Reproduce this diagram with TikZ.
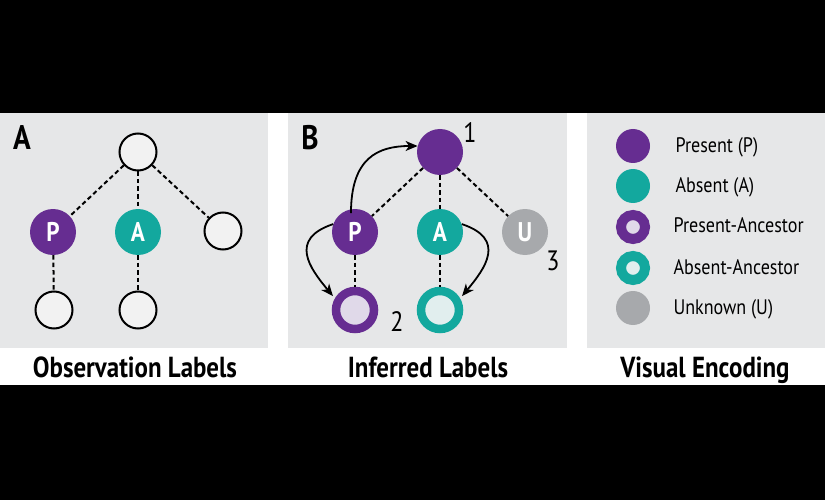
\documentclass[tikz,border=0pt]{standalone}
\usepackage{fontspec}
\setmainfont{PT Sans}[FakeStretch=0.86]
\usetikzlibrary{arrows.meta}
\definecolor{pur}{HTML}{662D91}
\definecolor{tealc}{HTML}{13A89E}
\definecolor{ugray}{HTML}{A7A9AC}
\definecolor{panel}{HTML}{E6E7E8}
\definecolor{purlight}{HTML}{E0D9E9}
\definecolor{teallight}{HTML}{E1EEEE}
\definecolor{emptyfill}{HTML}{F2F2F2}
\begin{document}
\begin{tikzpicture}[x=1pt,y=-1pt,
  emptynode/.style={circle, draw=black, line width=2pt, fill=emptyfill, minimum size=37pt, inner sep=0pt},
  fullnode/.style={circle, minimum size=46pt, inner sep=0pt, text=white, font=\bfseries\fontsize{27}{27}\selectfont},
  ringnode/.style={circle, line width=8.5pt, minimum size=38pt, inner sep=0pt},
  legdot/.style={circle, minimum size=34pt, inner sep=0pt},
  legring/.style={circle, line width=10pt, minimum size=24pt, inner sep=0pt},
  dashline/.style={line width=2pt, dash pattern=on 4.5pt off 3pt},
  arr/.style={line width=1.8pt, -{Stealth[length=12pt,width=10pt,inset=3.5pt]}},
  panellabel/.style={font=\bfseries\fontsize{34}{34}\selectfont},
  numlabel/.style={font=\fontsize{28}{28}\selectfont},
  caption/.style={anchor=base, font=\bfseries\fontsize{29}{29}\selectfont},
  legtext/.style={anchor=base west, font=\fontsize{21}{21}\selectfont}
]
\useasboundingbox (0,0) rectangle (825,500);
\fill[black] (0,0) rectangle (825,500);
\fill[white] (0,113) rectangle (825,385);
\fill[panel] (0,113) rectangle (268,348);
\fill[panel] (288,113) rectangle (567,348);
\fill[panel] (587,113) rectangle (825,348);

% Panel A
\node[panellabel] (labA) at (22,138) {A};
\node[emptynode] (a1) at (138,152) {};
\node[fullnode, fill=pur] (aP) at (53,232) {P};
\node[fullnode, fill=tealc] (aA) at (138,232) {A};
\node[emptynode] (aR) at (223,231) {};
\node[emptynode] (aPc) at (54,310) {};
\node[emptynode] (aAc) at (138,310) {};
\draw[dashline] (a1) -- (aP);
\draw[dashline] (a1) -- (aA);
\draw[dashline] (a1) -- (aR);
\draw[dashline] (aP) -- (aPc);
\draw[dashline] (aA) -- (aAc);
\node[caption] (capA) at (135,377) {Observation Labels};

% Panel B
\node[panellabel] (labB) at (310,138) {B};
\node[fullnode, fill=pur] (b1) at (440,152) {};
\node[fullnode, fill=pur] (bP) at (355,232) {P};
\node[fullnode, fill=tealc] (bA) at (440,232) {A};
\node[fullnode, fill=ugray] (bU) at (525,232) {U};
\node[ringnode, draw=pur, fill=purlight] (bPc) at (355,310) {};
\node[ringnode, draw=tealc, fill=teallight] (bAc) at (440,310) {};
\draw[dashline] (b1) -- (bP);
\draw[dashline] (b1) -- (bA);
\draw[dashline] (b1) -- (bU);
\draw[dashline] (bP) -- (bPc);
\draw[dashline] (bA) -- (bAc);
\node[numlabel] (n1) at (470,133) {1};
\node[numlabel] (n2) at (397,322) {2};
\node[numlabel] (n3) at (553,261) {3};
\draw[arr] ([yshift=-4pt]bP.100) .. controls +(0,-55) and +(-40,0) .. (b1.165);
\draw[arr, shorten >=3pt] (bP.160) .. controls +(-45,15) and +(-25,-30) .. (bPc.150);
\draw[arr, shorten >=3pt] (bA.20) .. controls +(45,15) and +(25,-30) .. (bAc.30);
\node[caption] (capB) at (428,377) {Inferred Labels};

% Panel C
\node[legdot, fill=pur] (l1) at (633,146) {};
\node[legdot, fill=tealc] (l2) at (633,186) {};
\node[legring, draw=pur, fill=purlight] (l3) at (633,227) {};
\node[legring, draw=tealc, fill=teallight] (l4) at (633,268) {};
\node[legdot, fill=ugray] (l5) at (633,308) {};
\node[legtext] (t1) at (672,153) {Present (P)};
\node[legtext] (t2) at (672,193) {Absent (A)};
\node[legtext] (t3) at (670,233) {Present-Ancestor};
\node[legtext] (t4) at (670,274) {Absent-Ancestor};
\node[legtext] (t5) at (670,314) {Unknown (U)};
\node[caption] (capC) at (705,377) {Visual Encoding};
\end{tikzpicture}
\end{document}
